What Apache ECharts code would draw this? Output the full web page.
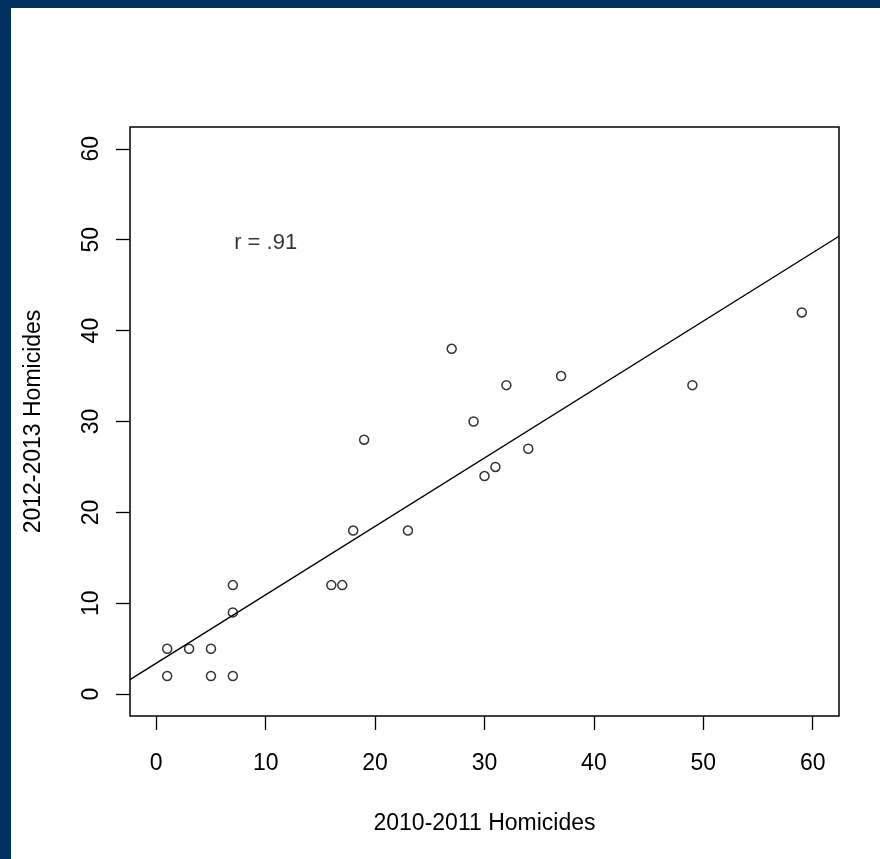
<!DOCTYPE html>
<html>
<head>
<meta charset="utf-8">
<script src="https://cdn.jsdelivr.net/npm/echarts@6/dist/echarts.min.js"></script>
<style>
  html, body { margin: 0; padding: 0; background: #fff; }
  #chart { width: 880px; height: 859px; }
</style>
</head>
<body>
<div id="chart"></div>
<script>
// homicides per area, two periods
const homicides1011 = [1, 1, 3, 5, 5, 7, 7, 7, 16, 17, 18, 19, 23, 27, 29, 30, 31, 32, 34, 37, 49, 59];
const homicides1213 = [5, 2, 5, 5, 2, 2, 9, 12, 12, 12, 18, 28, 18, 38, 30, 24, 25, 34, 27, 35, 34, 42];
const xTicks = [0, 10, 20, 30, 40, 50, 60];
const yTicks = [0, 10, 20, 30, 40, 50, 60];
const rLabel = "r = .91";
const rLabelAt = [10, 50];

// R-style 4% padding round 0..60
const axisMin = -2.4;
const axisMax = 62.4;
const font = "'Liberation Sans', Arial, Helvetica, sans-serif";

// least squares fit for the abline
function fitLine(xs, ys) {
  const n = xs.length;
  const mx = xs.reduce((a, b) => a + b, 0) / n;
  const my = ys.reduce((a, b) => a + b, 0) / n;
  let sxy = 0;
  let sxx = 0;
  xs.forEach((x, i) => {
    sxy += (x - mx) * (ys[i] - my);
    sxx += (x - mx) * (x - mx);
  });
  const slope = sxy / sxx;
  return { slope, intercept: my - slope * mx };
}

const fit = fitLine(homicides1011, homicides1213);
const fitData = [axisMin, axisMax].map((x) => [x, fit.intercept + fit.slope * x]);
const points = homicides1011.map((x, i) => [x, homicides1213[i]]);

const chart = echarts.init(document.getElementById("chart"), null, { renderer: "canvas" });

const tickStyle = { color: "#000", width: 1.3 };

chart.setOption({
  backgroundColor: "#fff",
  animation: false,
  textStyle: { fontFamily: font },
  graphic: [
    { type: "rect", shape: { x: 0, y: 0, width: 880, height: 8 }, style: { fill: "#00305f" } },
    { type: "rect", shape: { x: 0, y: 0, width: 11, height: 859 }, style: { fill: "#00305f" } },
  ],
  grid: {
    left: 130,
    right: 41,
    top: 127,
    bottom: 143,
    show: true,
    borderColor: "#000",
    borderWidth: 1.5,
    backgroundColor: "transparent",
  },
  xAxis: {
    type: "value",
    min: axisMin,
    max: axisMax,
    name: "2010-2011 Homicides",
    nameLocation: "middle",
    nameGap: 96,
    nameTextStyle: { fontSize: 23, color: "#000", fontFamily: font },
    axisLine: { show: false, onZero: false },
    axisTick: { show: true, length: 14, customValues: xTicks, lineStyle: tickStyle },
    axisLabel: { customValues: xTicks, fontSize: 23, color: "#000", margin: 36, fontFamily: font },
    splitLine: { show: false },
  },
  yAxis: {
    type: "value",
    min: axisMin,
    max: axisMax,
    name: "2012-2013 Homicides",
    nameLocation: "middle",
    nameGap: 85,
    nameTextStyle: { fontSize: 23, color: "#000", fontFamily: font },
    axisLine: { show: false, onZero: false },
    axisTick: { show: true, length: 14, customValues: yTicks, lineStyle: tickStyle },
    axisLabel: { customValues: yTicks, fontSize: 23, color: "#000", margin: 27, rotate: 90, fontFamily: font },
    splitLine: { show: false },
  },
  series: [
    {
      type: "line",
      data: fitData,
      symbol: "none",
      clip: true,
      lineStyle: { color: "#000", width: 1.4 },
      silent: true,
    },
    {
      type: "scatter",
      data: points,
      symbol: "circle",
      symbolSize: 9,
      itemStyle: { color: "transparent", borderColor: "#000", borderWidth: 1.5 },
    },
    {
      type: "scatter",
      data: [rLabelAt],
      symbolSize: 0,
      silent: true,
      label: {
        show: true,
        position: "inside",
        offset: [0, 3],
        formatter: rLabel,
        fontSize: 22,
        color: "#000",
        fontFamily: font,
      },
    },
  ],
});
</script>
</body>
</html>
